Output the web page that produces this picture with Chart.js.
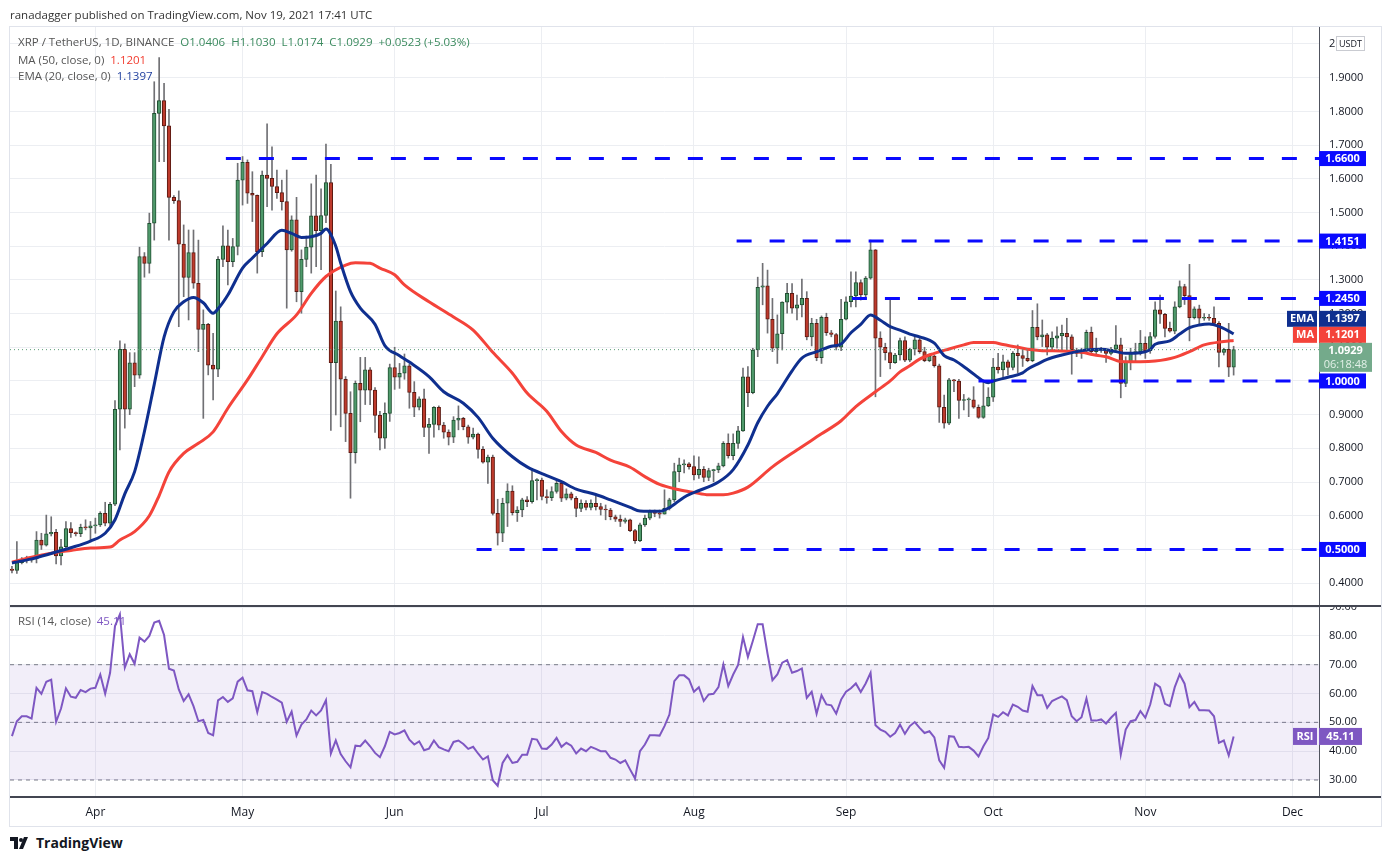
<!DOCTYPE html>
<html>
<head>
<meta charset="utf-8">
<title>XRP / TetherUS 1D</title>
<script src="https://cdn.jsdelivr.net/npm/chart.js@4.4.0/dist/chart.umd.min.js"></script>
<style>
  body { margin: 0; background: #fff; font-family: "Open Sans", sans-serif; }
  #page { position: relative; width: 1391px; height: 860px; overflow: hidden; }
  .abs { position: absolute; }
  #frame { left: 9px; top: 26px; width: 1371px; height: 799px; border: 1px solid #e0e3eb; }
  #pricebox { left: 0; top: 0; width: 1391px; height: 605px; }
  #rsibox { left: 0; top: 605px; width: 1391px; height: 225px; }
  #header { left: 10px; top: 7px; font-size: 11.5px; color: #333; white-space: nowrap; }
  .legend { left: 18px; font-size: 11.5px; color: #555; white-space: nowrap; }
  .up { color: #3b8a5e; }
  #logo { left: 10px; top: 833px; font-size: 14px; font-weight: bold; color: #131722; display: flex; align-items: center; gap: 4px; }
</style>
</head>
<body>
<div id="page">
  <div id="frame" class="abs"></div>
  <div id="pricebox" class="abs"><canvas id="priceChart"></canvas></div>
  <div id="rsibox" class="abs"><canvas id="rsiChart"></canvas></div>
  <div id="header" class="abs">ranadagger published on TradingView.com, Nov 19, 2021 17:41 UTC</div>
  <div class="abs legend" style="top:34px">XRP / TetherUS, 1D, BINANCE&nbsp;&nbsp;<span class="up">O1.0406&nbsp;&nbsp;H1.1030&nbsp;&nbsp;L1.0174&nbsp;&nbsp;C1.0929&nbsp;&nbsp;+0.0523 (+5.03%)</span></div>
  <div class="abs legend" style="top:52px">MA (50, close, 0)&nbsp;&nbsp;<span style="color:#f23b2e">1.1201</span></div>
  <div class="abs legend" style="top:68px">EMA (20, close, 0)&nbsp;&nbsp;<span style="color:#1f3f9e">1.1397</span></div>
  <div class="abs legend" style="top:613px">RSI (14, close)&nbsp;&nbsp;<span style="color:#7e57c2">45.11</span></div>
  <div id="logo" class="abs">
    <svg width="22" height="12" viewBox="0 0 22 12"><path d="M0 0h8v12H4V4H0z M9 12l5-12h4l-5 12z" fill="#131722"/><circle cx="11" cy="3" r="2" fill="#131722"/></svg>
    <span>TradingView</span>
  </div>
</div>

<script>
// daily candles, day 0 = 2021-03-15, last = 2021-11-19
const opens = [
  .442,.438,.461,.471,.468,.472,.528,.513,.546,.551, .481,.508,.562,.55,.547,.566,.564,.57,.573,.607,
  .578,.634,.916,1.094,.916,1.054,1.017,1.369,1.349,1.468, 1.794,1.832,1.757,1.545,1.535,1.406,1.307,1.381,1.29,1.153,
  1.168,1.047,1.035,1.361,1.401,1.354,1.399,1.596,1.649,1.557, 1.551,1.384,1.611,1.601,1.577,1.559,1.532,1.389,1.478,1.265,
  1.361,1.397,1.49,1.446,1.491,1.589,1.054,1.178,1.005,.904, .787,.993,.973,1.033,.973,.898,.83,.904,1.04,1.011,
  1.023,1.045,.966,.922,.947,.862,.871,.922,.869,.848, .833,.884,.889,.864,.833,.842,.797,.759,.774,.607,
  .548,.637,.673,.609,.617,.647,.642,.704,.706,.657, .654,.672,.696,.652,.665,.652,.622,.637,.625,.637,
  .627,.619,.617,.597,.59,.583,.588,.556,.526,.573, .593,.612,.607,.605,.622,.647,.731,.751,.754,.746,
  .721,.738,.714,.734,.736,.748,.815,.778,.815,.852, 1.012,.965,1.092,1.278,1.282,1.183,1.097,1.14,1.234,1.26,
  1.216,1.226,1.245,1.131,1.171,1.069,1.189,1.143,1.138,1.10, 1.183,1.235,1.252,1.292,1.255,1.305,1.389,1.127,1.10,1.084,
  1.054,1.077,1.12,1.062,1.094,1.122,1.087,1.06,1.074,1.045, .922,.875,1.003,1.0,.942,.944,.944,.922,.892,.926,
  .952,1.041,1.033,1.057,1.04,1.082,1.075,1.067,1.06,1.159, 1.131,1.137,1.10,1.127,1.134,1.141,1.131,1.092,1.082,1.092,
  1.144,1.087,1.095,1.092,1.082,1.094,1.107,.993,1.057,1.084, 1.087,1.112,1.09,1.132,1.211,1.198,1.156,1.148,1.22,1.28,
  1.253,1.188,1.214,1.186,1.189,1.186,1.171,1.085,1.094,1.0406
];
const highs = [
  .45,.523,.476,.48,.478,.553,.548,.602,.597,.56, .53,.583,.58,.552,.575,.588,.583,.593,.612,.64,
  .64,.942,1.119,1.11,1.084,1.084,1.397,1.381,1.498,1.888, 1.96,1.883,1.806,1.55,1.564,1.463,1.448,1.448,1.418,1.211,
  1.171,1.141,1.369,1.46,1.448,1.423,1.646,1.666,1.656,1.621, 1.552,1.623,1.763,1.695,1.626,1.596,1.626,1.49,1.545,1.389,
  1.43,1.585,1.611,1.57,1.703,1.643,1.267,1.22,1.013,.968, 1.0,1.07,1.07,1.04,.98,.91,.935,1.05,1.10,1.052,
  1.08,1.05,.998,.953,.976,.889,.924,.926,.877,.855, .894,.926,.892,.869,.86,.845,.805,.78,.78,.649,
  .652,.695,.689,.627,.652,.657,.736,.71,.712,.677, .686,.708,.70,.68,.67,.657,.647,.645,.647,.66,
  .637,.632,.622,.602,.602,.593,.59,.56,.578,.602, .617,.617,.617,.677,.652,.756,.771,.766,.758,.778,
  .775,.746,.741,.738,.756,.82,.843,.843,.865,1.038, 1.043,1.097,1.308,1.349,1.329,1.245,1.196,1.235,1.29,1.289,
  1.255,1.302,1.265,1.186,1.183,1.193,1.201,1.15,1.141,1.242, 1.25,1.324,1.324,1.30,1.31,1.418,1.39,1.146,1.112,1.245,
  1.082,1.127,1.131,1.097,1.13,1.13,1.10,1.08,1.076,1.05, .958,1.008,1.005,1.005,.96,.95,.983,.929,.998,.98,
  1.067,1.082,1.077,1.062,1.087,1.107,1.092,1.092,1.209,1.229, 1.181,1.141,1.146,1.161,1.166,1.186,1.137,1.097,1.097,1.151,
  1.16,1.127,1.10,1.094,1.10,1.164,1.127,1.072,1.097,1.112, 1.15,1.131,1.144,1.235,1.255,1.201,1.175,1.235,1.297,1.287,
  1.346,1.22,1.225,1.20,1.198,1.22,1.176,1.097,1.171,1.103
];
const lows = [
  .43,.429,.457,.46,.462,.46,.50,.51,.54,.457, .454,.50,.536,.54,.538,.558,.525,.548,.568,.57,
  .57,.63,.795,.86,.90,.983,1.008,1.308,1.32,1.418, 1.651,1.651,1.418,1.527,1.161,1.25,1.181,1.275,1.087,.889,
  1.018,.944,1.013,1.339,1.285,1.339,1.374,1.522,1.527,1.473, 1.32,1.369,1.517,1.507,1.542,1.507,1.216,1.385,1.235,1.201,
  1.339,1.32,1.339,1.33,1.47,.853,.899,.864,.82,.652, .756,.879,.93,.93,.847,.795,.80,.88,.975,.978,
  1.005,.919,.894,.914,.835,.785,.833,.855,.83,.81, .817,.855,.855,.815,.828,.771,.756,.696,.602,.513,
  .523,.568,.602,.583,.597,.627,.637,.647,.647,.637, .645,.667,.642,.647,.647,.597,.612,.617,.617,.617,
  .602,.588,.588,.583,.568,.578,.553,.518,.523,.568, .588,.597,.593,.605,.617,.642,.701,.727,.738,.706,
  .711,.701,.704,.701,.728,.745,.771,.766,.80,.85, .924,.962,1.072,1.226,1.142,1.087,1.052,1.092,1.201,1.201,
  1.181,1.19,1.122,1.104,1.06,1.052,1.135,1.131,1.092,1.09, 1.181,1.22,1.22,1.24,1.25,1.302,.953,1.013,1.062,1.036,
  1.052,1.062,1.057,1.057,1.077,1.082,1.057,1.057,1.041,.877, .86,.87,.968,.889,.914,.894,.919,.889,.889,.924,
  .939,1.023,1.011,1.018,1.033,1.023,1.043,1.057,1.057,1.122, 1.102,1.077,1.092,1.097,1.092,1.092,1.02,1.072,1.067,1.082,
  1.077,1.08,1.085,1.055,1.077,1.087,.95,.983,1.033,1.057, 1.077,1.067,1.082,1.127,1.171,1.131,1.145,1.14,1.217,1.227,
  1.119,1.184,1.166,1.18,1.18,1.166,1.042,1.077,1.013,1.0174
];
const closes = [
  .438,.461,.471,.468,.472,.528,.513,.546,.551,.481, .508,.562,.55,.547,.566,.564,.57,.573,.607,.578,
  .634,.916,1.094,.916,1.054,1.017,1.369,1.349,1.468,1.794, 1.832,1.757,1.545,1.535,1.406,1.307,1.381,1.29,1.153,1.168,
  1.047,1.035,1.361,1.401,1.354,1.399,1.596,1.649,1.557,1.551, 1.384,1.611,1.601,1.577,1.559,1.532,1.389,1.478,1.265,1.361,
  1.397,1.49,1.446,1.491,1.589,1.054,1.178,1.005,.904,.787, .993,.973,1.033,.973,.898,.83,.904,1.04,1.011,1.023,
  1.045,.966,.922,.947,.862,.871,.922,.869,.848,.833, .884,.889,.864,.833,.842,.797,.759,.774,.607,.548,
  .637,.673,.609,.617,.647,.642,.704,.706,.657,.654, .672,.696,.652,.665,.652,.622,.637,.625,.637,.627,
  .619,.617,.597,.59,.583,.588,.556,.526,.573,.593, .612,.607,.605,.622,.647,.731,.751,.754,.746,.721,
  .738,.714,.734,.736,.748,.815,.778,.815,.852,1.012, .965,1.092,1.278,1.282,1.183,1.097,1.14,1.234,1.26,1.216,
  1.226,1.245,1.131,1.171,1.069,1.189,1.143,1.138,1.10,1.183, 1.235,1.252,1.292,1.255,1.305,1.389,1.127,1.10,1.084,1.054,
  1.077,1.12,1.062,1.094,1.122,1.087,1.06,1.074,1.045,.922, .875,1.003,1.0,.942,.944,.944,.922,.892,.926,.952,
  1.041,1.033,1.057,1.04,1.082,1.075,1.067,1.06,1.159,1.131, 1.137,1.10,1.127,1.134,1.141,1.131,1.092,1.082,1.092,1.144,
  1.087,1.095,1.092,1.082,1.094,1.107,.993,1.057,1.084,1.087, 1.112,1.09,1.132,1.211,1.198,1.156,1.148,1.22,1.28,1.253,
  1.188,1.214,1.186,1.189,1.186,1.171,1.085,1.094,1.0406,1.0929
];

// EMA 20 and MA 50 at sample days
const emaDays   = [0,4,8,12,16,19,21,23,25,27,29,31,33,35,37,39,41,42,44,47,49,52,55,57,59,61,63,64,66,67,69,71,74,76,79,81,85,88,92,95,98,102,105,109,112,115,119,122,126,128,132,134,137,139,144,147,150,152,154,156,159,161,164,167,169,171,173,175,177,179,181,183,185,188,190,192,195,198,199,200,203,206,207,209,211,214,217,219,222,225,227,230,232,233,236,238,240,242,244,246,248,249];
const emaValues = [.46,.472,.488,.505,.525,.548,.588,.665,.731,.85,.99,1.13,1.205,1.235,1.248,1.232,1.201,1.214,1.255,1.335,1.365,1.408,1.447,1.438,1.426,1.428,1.438,1.451,1.40,1.35,1.265,1.216,1.168,1.105,1.075,1.056,1.013,.968,.934,.892,.83,.775,.745,.719,.701,.679,.663,.647,.625,.614,.613,.624,.655,.669,.70,.737,.81,.876,.925,.962,1.03,1.068,1.087,1.103,1.11,1.143,1.168,1.196,1.18,1.161,1.151,1.139,1.131,1.112,1.075,1.062,1.032,1.0,.995,1.0,1.011,1.024,1.035,1.05,1.064,1.077,1.087,1.092,1.094,1.087,1.082,1.084,1.093,1.109,1.119,1.139,1.158,1.166,1.169,1.162,1.148,1.1397];
const maDays    = [0,4,8,12,16,20,22,25,28,30,32,35,38,41,44,48,51,54,58,61,64,68,70,73,75,78,80,85,90,94,98,102,105,109,112,115,119,122,126,129,132,136,139,142,145,147,150,155,160,165,169,172,176,179,181,183,185,188,191,194,196,200,202,205,207,210,214,218,221,223,226,230,233,237,240,243,247,249];
const maValues  = [.462,.477,.489,.497,.504,.507,.528,.553,.60,.66,.73,.785,.815,.849,.919,1.003,1.072,1.14,1.196,1.26,1.31,1.344,1.351,1.349,1.335,1.315,1.285,1.235,1.19,1.151,1.085,1.023,.964,.91,.85,.81,.788,.765,.744,.716,.693,.677,.669,.662,.662,.667,.685,.745,.795,.843,.882,.924,.968,1.0,1.027,1.045,1.065,1.082,1.095,1.107,1.114,1.114,1.108,1.10,1.094,1.09,1.089,1.085,1.076,1.072,1.058,1.057,1.059,1.07,1.087,1.107,1.117,1.1201];

// RSI 14, one value per day
const rsi = [
  45.2,50.4,52.1,52.1,51.3,62.0,59.9,64.1,64.8,50.2, 54.8,61.8,58.9,58.5,61.2,60.5,61.7,62.0,66.6,59.9,
  67.2,83.4,87.5,69.0,73.6,70.3,79.4,78.0,80.0,84.6, 85.2,80.3,68.6,68.0,61.4,57.4,59.7,55.6,50.4,50.8,
  46.3,45.5,57.6,58.8,57.1,58.3,64.1,65.5,61.1,60.8, 53.5,60.5,59.9,58.8,57.9,56.8,50.2,53.7,45.4,49.2,
  51.0,54.1,52.4,54.1,57.7,39.2,43.7,39.0,36.5,34.4, 41.9,41.7,43.7,41.7,39.4,37.9,41.7,46.7,45.8,46.3,
  47.2,44.0,42.3,43.4,40.3,40.9,43.7,41.4,40.6,40.0, 43.2,43.7,42.5,40.8,41.5,39.2,37.1,38.2,29.9,28.0,
  35.9,38.6,35.9,36.3,38.8,38.8,44.3,44.0,40.9,40.8, 42.3,44.6,41.5,42.9,41.9,39.2,40.9,40.0,41.5,40.8,
  40.0,40.0,37.7,37.1,35.9,36.8,33.6,30.5,40.0,42.3, 45.5,45.5,45.4,48.7,52.7,64.3,66.3,66.3,64.9,60.6,
  62.2,57.4,59.7,59.9,62.2,70.1,62.6,66.6,69.9,79.6, 72.7,78.2,84.0,84.0,73.8,64.6,66.6,70.7,71.6,67.2,
  67.8,68.7,58.5,60.6,53.0,59.4,56.2,55.9,53.0,57.9, 60.6,61.8,63.5,60.5,63.5,67.2,49.0,47.5,46.7,45.0,
  46.3,49.2,46.0,48.7,50.1,48.1,46.3,46.9,44.8,36.8, 34.2,45.2,45.0,41.5,41.4,41.5,40.2,38.2,41.7,44.6,
  52.7,51.9,53.5,52.4,56.2,55.4,54.1,53.7,62.6,59.4, 59.4,55.0,57.4,58.2,59.0,57.7,52.1,50.4,51.8,58.3,
  50.6,50.6,51.0,49.6,51.6,53.3,38.8,47.5,50.4,50.8, 53.9,51.6,56.2,63.4,62.2,56.4,55.6,62.2,66.6,63.4,
  55.3,57.1,54.2,54.2,54.1,52.1,42.9,43.7,38.5,45.11
];

// horizontal support / resistance levels and the day each one starts
const levelValues = [1.66, 1.4151, 1.245, 1.0, 0.5];
const levelStart  = [43.6, 147.7, 171.2, 197, 94.7];

const priceTicks = [0.4,0.5,0.6,0.7,0.8,0.9,1.0,1.1,1.2,1.3,1.4,1.5,1.6,1.7,1.8,1.9,2.0];
const rsiTicks = [30,40,50,60,70,80,90];
const monthDays = [17,47,78,108,139,170,200,231,261];
const monthLabels = ['Apr','May','Jun','Jul','Aug','Sep','Oct','Nov','Dec'];

const lastPrice = 1.0929, lastEma = 1.1397, lastMa = 1.1201, lastRsi = 45.11;
const countdown = '06:18:48';

const X_MIN = -0.4, X_MAX = 266.4;
const GRID = '#eceef2';
const AXIS = '#50535e';
const LEVEL_BLUE = '#0a0aff';
const EMA_BLUE = '#0f2f8f';
const MA_RED = '#f4433a';
const UP = '#4f9a6b', DOWN = '#bd3a2c';
const UP_EDGE = '#1f4e30', DOWN_EDGE = '#5c1a12';

Chart.defaults.font.family = '"Open Sans", sans-serif';
Chart.defaults.color = '#131722';

function box(ctx, x, y, w, h, bg, lines, fg) {
  ctx.fillStyle = bg;
  ctx.fillRect(x, y, w, h);
  ctx.textAlign = 'center';
  ctx.textBaseline = 'middle';
  ctx.font = 'bold 11px "Open Sans", sans-serif';
  if (lines.length === 1) {
    ctx.fillStyle = fg || '#fff';
    ctx.fillText(lines[0], x + w / 2, y + h / 2 + 0.5);
  } else {
    ctx.fillStyle = '#fff';
    ctx.fillText(lines[0], x + w / 2, y + h / 4 + 1);
    ctx.fillStyle = '#e3f1e8';
    ctx.font = '11px "Open Sans", sans-serif';
    ctx.fillText(lines[1], x + w / 2, y + 3 * h / 4);
  }
}

// right-hand price tags, stacked so they don't overlap
const priceTags = {
  id: 'priceTags',
  afterDraw(chart) {
    const { ctx, chartArea, scales: { y } } = chart;
    const x0 = chartArea.right;
    const items = levelValues.map(v => ({ v, h: 15, w: 47, bg: LEVEL_BLUE, lines: [v.toFixed(4)] }));
    items.push({ v: lastEma, h: 16, w: 47, bg: EMA_BLUE, lines: [lastEma.toFixed(4)], tag: 'EMA', tagW: 30 });
    items.push({ v: lastMa, h: 16, w: 47, bg: MA_RED, lines: [lastMa.toFixed(4)], tag: 'MA', tagW: 24 });
    items.push({ v: lastPrice, h: 29, w: 53, bg: '#74aa8b', lines: [lastPrice.toFixed(4), countdown] });
    items.forEach(it => it.c = y.getPixelForValue(it.v));
    items.sort((a, b) => a.c - b.c);

    let groups = items.map(it => ({ items: [it] }));
    const place = g => {
      const H = g.items.reduce((s, it) => s + it.h, 0);
      const c = g.items.reduce((s, it) => s + it.c, 0) / g.items.length;
      g.top = c - H / 2; g.bottom = c + H / 2;
    };
    groups.forEach(place);
    let merged = true;
    while (merged) {
      merged = false;
      for (let i = 1; i < groups.length; i++) {
        if (groups[i - 1].bottom > groups[i].top) {
          groups[i - 1].items = groups[i - 1].items.concat(groups[i].items);
          groups.splice(i, 1);
          place(groups[i - 1]);
          merged = true;
          break;
        }
      }
    }
    ctx.save();
    groups.forEach(g => {
      let top = g.top;
      g.items.forEach(it => {
        box(ctx, x0, top, it.w, it.h, it.bg, it.lines);
        if (it.tag) box(ctx, x0 - 2 - it.tagW, top, it.tagW, it.h, it.bg, [it.tag]);
        top += it.h;
      });
    });
    // currency tag next to the top tick
    ctx.fillStyle = '#fff';
    ctx.fillRect(x0 + 17, 36, 29, 15);
    ctx.strokeStyle = '#c9cbd1';
    ctx.lineWidth = 1;
    ctx.strokeRect(x0 + 17.5, 36.5, 28, 14);
    ctx.fillStyle = '#131722';
    ctx.font = '9px "Open Sans", sans-serif';
    ctx.textAlign = 'center';
    ctx.textBaseline = 'middle';
    ctx.fillText('USDT', x0 + 31.5, 44);
    ctx.restore();
  }
};

const rsiTags = {
  id: 'rsiTags',
  afterDraw(chart) {
    const { ctx, chartArea, scales: { y } } = chart;
    const c = y.getPixelForValue(lastRsi);
    ctx.save();
    box(ctx, chartArea.right, c - 8.5, 43, 17, '#7e57c2', [lastRsi.toFixed(2)]);
    box(ctx, chartArea.right - 26, c - 8.5, 24, 17, '#7e57c2', ['RSI']);
    ctx.strokeStyle = '#434651';
    ctx.lineWidth = 2;
    ctx.beginPath();
    ctx.moveTo(chartArea.left, chartArea.top + 1);
    ctx.lineTo(1381, chartArea.top + 1);
    ctx.moveTo(chartArea.left, chartArea.bottom);
    ctx.lineTo(1381, chartArea.bottom);
    ctx.stroke();
    ctx.restore();
  }
};

function flatLine(v, from, color, dash, width) {
  return {
    type: 'line',
    data: [{ x: from, y: v }, { x: X_MAX, y: v }],
    borderColor: color, borderWidth: width, borderDash: dash,
    pointRadius: 0, fill: false, order: 1
  };
}

function monthGridX(showLabels) {
  return {
    type: 'linear', min: X_MIN, max: X_MAX, offset: false,
    afterBuildTicks: s => { s.ticks = monthDays.map(v => ({ value: v })); },
    ticks: {
      display: showLabels, padding: 8, maxRotation: 0, autoSkip: false,
      font: { size: 12 }, color: '#131722',
      callback: v => monthLabels[monthDays.indexOf(v)]
    },
    grid: { color: GRID, drawTicks: false, offset: false },
    border: { display: false }
  };
}

// right-hand value axis; labels sit 10px off the axis line via invisible tick marks,
// and a tiny line height keeps Chart.js from reserving label space above/below the plot
function rightAxis(min, max, tickValues, digits) {
  return {
    position: 'right', min, max,
    afterBuildTicks: s => { s.ticks = tickValues.map(v => ({ value: v })); },
    afterFit: s => { s.width = 72; },
    ticks: {
      padding: 0, font: { size: 11, lineHeight: 0.01 }, color: '#131722', autoSkip: false,
      callback: v => (digits === 4 && v === 2) ? '2' : v.toFixed(digits)
    },
    grid: { color: GRID, drawTicks: true, tickLength: 10, tickColor: 'rgba(0,0,0,0)' },
    border: { color: AXIS }
  };
}

function initCharts() {
  const wickData = highs.map((h, i) => ({ x: i, y: [lows[i], h] }));
  const bodyData = opens.map((o, i) => ({ x: i, y: [o, closes[i]] }));
  const isUp = opens.map((o, i) => closes[i] >= o);

  const priceX = monthGridX(false);
  priceX.afterFit = s => { s.height = 0; };

  const levelSets = levelValues.map((v, i) => flatLine(v, levelStart[i], LEVEL_BLUE, [15, 18], 3));

  new Chart(document.getElementById('priceChart'), {
    type: 'bar',
    data: {
      datasets: [
        flatLine(lastPrice, X_MIN, '#5b9c76', [1, 3], 1),
        { type: 'bar', data: wickData, backgroundColor: '#707074', barThickness: 1, grouped: false, order: 6 },
        {
          type: 'bar', data: bodyData, grouped: false, order: 5,
          backgroundColor: isUp.map(u => u ? UP : DOWN),
          borderColor: isUp.map(u => u ? UP_EDGE : DOWN_EDGE),
          borderWidth: 1, borderSkipped: false, barThickness: 3.6, minBarLength: 1
        },
        {
          type: 'line', data: maDays.map((d, i) => ({ x: d, y: maValues[i] })),
          borderColor: MA_RED, borderWidth: 3, pointRadius: 0, cubicInterpolationMode: 'monotone', order: 3
        },
        {
          type: 'line', data: emaDays.map((d, i) => ({ x: d, y: emaValues[i] })),
          borderColor: EMA_BLUE, borderWidth: 3, pointRadius: 0, cubicInterpolationMode: 'monotone', order: 2
        },
        ...levelSets
      ]
    },
    options: {
      responsive: true, maintainAspectRatio: false, animation: false,
      layout: { padding: { left: 10, top: 27, right: 0, bottom: 0 } },
      plugins: { legend: { display: false }, tooltip: { enabled: false } },
      scales: { x: priceX, y: rightAxis(0.3353, 2.0504, priceTicks, 4) }
    },
    plugins: [priceTags]
  });

  const rsiX = monthGridX(true);
  rsiX.afterFit = s => { s.height = 33; };

  new Chart(document.getElementById('rsiChart'), {
    type: 'line',
    data: {
      datasets: [
        Object.assign(flatLine(70, X_MIN, '#787b86', [4, 4], 1), { fill: { target: 2 }, backgroundColor: 'rgba(126,87,194,0.1)', order: 3 }),
        Object.assign(flatLine(50, X_MIN, '#787b86', [4, 4], 1), { order: 3 }),
        Object.assign(flatLine(30, X_MIN, '#787b86', [4, 4], 1), { order: 3 }),
        {
          data: rsi.map((v, i) => ({ x: i, y: v })),
          borderColor: '#7e57c2', borderWidth: 2, pointRadius: 0, tension: 0, order: 1
        }
      ]
    },
    options: {
      responsive: true, maintainAspectRatio: false, animation: false,
      layout: { padding: { left: 10, top: 0, right: 0, bottom: 0 } },
      plugins: { legend: { display: false }, tooltip: { enabled: false } },
      scales: { x: rsiX, y: rightAxis(24.1, 90.69, rsiTicks, 2) }
    },
    plugins: [rsiTags]
  });
}

window.addEventListener('load', initCharts);
</script>
</body>
</html>
